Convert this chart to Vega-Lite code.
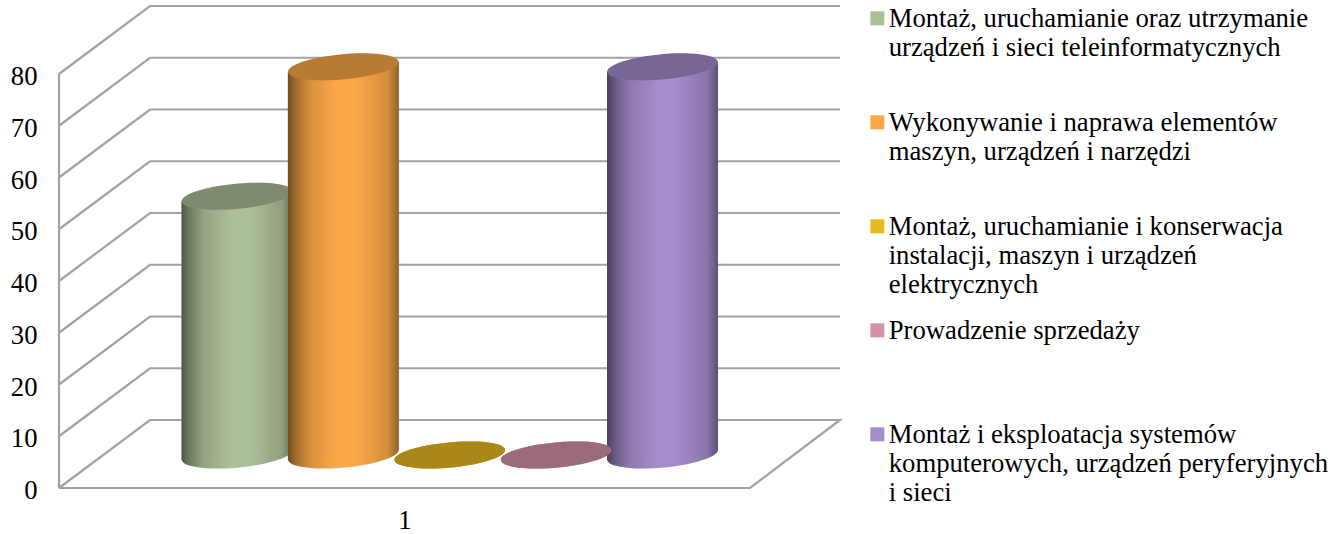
{
"$schema":"https://vega.github.io/schema/vega-lite/v6.json",
"width":1277,"height":488,
"autosize":{"type":"none"},
"padding":{"left":59,"top":0,"right":0,"bottom":46},
"background":"white",
"config":{"view":{"stroke":null},"font":"Liberation Serif"},
"datasets":{
"bars":[
{"series":"Montaż, uruchamianie oraz utrzymanie\nurządzeń i sieci teleinformatycznych","value":50},
{"series":"Wykonywanie i naprawa elementów\nmaszyn, urządzeń i narzędzi","value":75},
{"series":"Montaż, uruchamianie i konserwacja\ninstalacji, maszyn i urządzeń\nelektrycznych","value":0},
{"series":"Prowadzenie sprzedaży","value":0},
{"series":"Montaż i eksploatacja systemów\nkomputerowych, urządzeń peryferyjnych\ni sieci","value":75}
],
"frame":[
{"line":"g0","o":1,"x":0.5,"y":0},{"line":"g0","o":2,"x":1.5,"y":0},{"line":"g0","o":3,"x":1.6302,"y":13.14},{"line":"g0","o":4,"x":0.6317,"y":13.14},{"line":"g0","o":5,"x":0.5,"y":0},
{"line":"wall","o":1,"x":0.5,"y":0},{"line":"wall","o":2,"x":0.5,"y":80},
{"line":"g10","o":1,"x":0.5,"y":10},{"line":"g10","o":2,"x":0.6317,"y":23.14},{"line":"g10","o":3,"x":1.6302,"y":23.14},
{"line":"g20","o":1,"x":0.5,"y":20},{"line":"g20","o":2,"x":0.6317,"y":33.14},{"line":"g20","o":3,"x":1.6302,"y":33.14},
{"line":"g30","o":1,"x":0.5,"y":30},{"line":"g30","o":2,"x":0.6317,"y":43.14},{"line":"g30","o":3,"x":1.6302,"y":43.14},
{"line":"g40","o":1,"x":0.5,"y":40},{"line":"g40","o":2,"x":0.6317,"y":53.14},{"line":"g40","o":3,"x":1.6302,"y":53.14},
{"line":"g50","o":1,"x":0.5,"y":50},{"line":"g50","o":2,"x":0.6317,"y":63.14},{"line":"g50","o":3,"x":1.6302,"y":63.14},
{"line":"g60","o":1,"x":0.5,"y":60},{"line":"g60","o":2,"x":0.6317,"y":73.14},{"line":"g60","o":3,"x":1.6302,"y":73.14},
{"line":"g70","o":1,"x":0.5,"y":70},{"line":"g70","o":2,"x":0.6317,"y":83.14},{"line":"g70","o":3,"x":1.6302,"y":83.14},
{"line":"g80","o":1,"x":0.5,"y":80},{"line":"g80","o":2,"x":0.6317,"y":93.14},{"line":"g80","o":3,"x":1.6302,"y":93.14}
]
},
"resolve":{"scale":{"x":"independent","y":"independent"}},
"layer":[
{"data":{"name":"frame"},
 "mark":{"type":"line","stroke":"#a2a2a2","strokeWidth":2.2,"clip":false},
 "encoding":{
  "x":{"field":"x","type":"quantitative","scale":{"domain":[0.5,2.348],"nice":false,"zero":false},
   "axis":{"values":[1],"format":"d","title":null,"grid":false,"domain":false,"ticks":false,"labelPadding":19,"labelFontSize":26.7,"labelColor":"#000000","labelFont":"Liberation Serif"}},
  "y":{"field":"y","type":"quantitative","scale":{"domain":[0,94.3],"nice":false,"zero":false},
   "axis":{"values":[0,10,20,30,40,50,60,70,80],"title":null,"grid":false,"domain":false,"ticks":false,"labelPadding":22,"labelOffset":2.5,"labelFontSize":26.7,"labelColor":"#000000","labelFont":"Liberation Serif"}},
  "detail":{"field":"line"},
  "order":{"field":"o"}
 }},
{"data":{"name":"bars"},
 "encoding":{
  "x":{"field":"series","type":"nominal","scale":{"domain":["Montaż, uruchamianie oraz utrzymanie\nurządzeń i sieci teleinformatycznych","Wykonywanie i naprawa elementów\nmaszyn, urządzeń i narzędzi","Montaż, uruchamianie i konserwacja\ninstalacji, maszyn i urządzeń\nelektrycznych","Prowadzenie sprzedaży","Montaż i eksploatacja systemów\nkomputerowych, urządzeń peryferyjnych\ni sieci"],"range":[124.8,656.7],"paddingInner":0,"paddingOuter":0},"axis":null}
 },
 "layer":[
  {"transform":[{"filter":"datum.value==50"}],
   "mark":{"type":"point","filled":true,"opacity":1,"strokeWidth":0,"size":12321,"shape":"M-0.9957,0.0924 A1,0.225,-5.3,1,1,0.9957,-0.0924 A1,0.225,-5.3,1,1,-0.9957,0.0924 Z"},
   "encoding":{"y":{"datum":0,"type":"quantitative","scale":{"domain":[-6.38,87.92],"nice":false,"zero":false},"axis":null},
    "color":{"field":"series","type":"nominal",
     "scale":{"domain":["Montaż, uruchamianie oraz utrzymanie\nurządzeń i sieci teleinformatycznych","Wykonywanie i naprawa elementów\nmaszyn, urządzeń i narzędzi","Montaż, uruchamianie i konserwacja\ninstalacji, maszyn i urządzeń\nelektrycznych","Prowadzenie sprzedaży","Montaż i eksploatacja systemów\nkomputerowych, urządzeń peryferyjnych\ni sieci"],"range":["#adbf98","#fba947","#e8b921","#d592aa","#a58ccb"]},
     "legend":{"orient":"none","legendX":805,"legendY":-7,"title":null,"columns":1,"gridAlign":"all","rowPadding":6,"padding":0,"symbolType":"M-1,0.71H1V2.71H-1Z","symbolSize":196,"symbolStrokeWidth":0,"labelFont":"Liberation Serif","labelFontSize":26.7,"labelColor":"#000000","labelLimit":500,"labelBaseline":"top","labelOffset":-2,"labelExpr":"split(datum.label,'\\n')"}}}},
  {"transform":[{"filter":"datum.value==50"}],
   "mark":{"type":"point","filled":true,"opacity":1,"strokeWidth":0,"size":12321,"shape":"M-0.9957,0.0924 A1,0.225,-5.3,1,1,0.9957,-0.0924 A1,0.225,-5.3,1,1,-0.9957,0.0924 Z",
    "color":{"gradient":"linear","x1":0,"x2":1,"y1":0,"y2":0,"stops":[{"offset":0,"color":"rgba(0,0,0,0.55)"},{"offset":0.06,"color":"rgba(0,0,0,0.38)"},{"offset":0.2,"color":"rgba(0,0,0,0.14)"},{"offset":0.45,"color":"rgba(0,0,0,0)"},{"offset":0.62,"color":"rgba(0,0,0,0)"},{"offset":0.9,"color":"rgba(0,0,0,0.16)"},{"offset":1,"color":"rgba(0,0,0,0.42)"}]}},
   "encoding":{"y":{"datum":0,"type":"quantitative"}}},
  {"transform":[{"filter":"datum.value==50"}],
   "mark":{"type":"bar","width":56,"xOffset":-27.5,"yOffset":5,"y2Offset":5},
   "encoding":{"y":{"field":"value","type":"quantitative"},"y2":{"datum":0},
    "color":{"field":"series","type":"nominal","legend":null}}},
  {"transform":[{"filter":"datum.value==50"}],
   "mark":{"type":"bar","width":56,"xOffset":27.5,"yOffset":-5,"y2Offset":-5},
   "encoding":{"y":{"field":"value","type":"quantitative"},"y2":{"datum":0},
    "color":{"field":"series","type":"nominal","legend":null}}},
  {"transform":[{"filter":"datum.value==50"}],
   "mark":{"type":"bar","width":56,"xOffset":-27.5,"yOffset":5,"y2Offset":5,
    "color":{"gradient":"linear","x1":0,"x2":1,"y1":0,"y2":0,"stops":[{"offset":0,"color":"rgba(0,0,0,0.55)"},{"offset":0.12,"color":"rgba(0,0,0,0.38)"},{"offset":0.4,"color":"rgba(0,0,0,0.14)"},{"offset":0.9,"color":"rgba(0,0,0,0)"},{"offset":1,"color":"rgba(0,0,0,0)"}]}},
   "encoding":{"y":{"field":"value","type":"quantitative"},"y2":{"datum":0}}},
  {"transform":[{"filter":"datum.value==50"}],
   "mark":{"type":"bar","width":56,"xOffset":27.5,"yOffset":-5,"y2Offset":-5,
    "color":{"gradient":"linear","x1":0,"x2":1,"y1":0,"y2":0,"stops":[{"offset":0,"color":"rgba(0,0,0,0)"},{"offset":0.24,"color":"rgba(0,0,0,0)"},{"offset":0.8,"color":"rgba(0,0,0,0.16)"},{"offset":1,"color":"rgba(0,0,0,0.42)"}]}},
   "encoding":{"y":{"field":"value","type":"quantitative"},"y2":{"datum":0}}},
  {"transform":[{"filter":"datum.value==50"}],
   "mark":{"type":"point","filled":true,"opacity":1,"strokeWidth":0,"size":12321,"shape":"M-0.9957,0.0924 A1,0.225,-5.3,1,1,0.9957,-0.0924 A1,0.225,-5.3,1,1,-0.9957,0.0924 Z"},
   "encoding":{"y":{"field":"value","type":"quantitative"},
    "color":{"field":"series","type":"nominal","legend":null}}},
  {"transform":[{"filter":"datum.value==50"}],
   "mark":{"type":"point","filled":true,"opacity":0.27,"strokeWidth":0,"size":12321,"color":"#000000","shape":"M-0.9957,0.0924 A1,0.225,-5.3,1,1,0.9957,-0.0924 A1,0.225,-5.3,1,1,-0.9957,0.0924 Z"},
   "encoding":{"y":{"field":"value","type":"quantitative"}}},
  {"transform":[{"filter":"datum.value!=50"}],
   "mark":{"type":"point","filled":true,"opacity":1,"strokeWidth":0,"size":12321,"shape":"M-0.9957,0.0924 A1,0.225,-5.3,1,1,0.9957,-0.0924 A1,0.225,-5.3,1,1,-0.9957,0.0924 Z"},
   "encoding":{"y":{"datum":0,"type":"quantitative"},
    "color":{"field":"series","type":"nominal","legend":null}}},
  {"transform":[{"filter":"datum.value!=50"}],
   "mark":{"type":"point","filled":true,"opacity":1,"strokeWidth":0,"size":12321,"shape":"M-0.9957,0.0924 A1,0.225,-5.3,1,1,0.9957,-0.0924 A1,0.225,-5.3,1,1,-0.9957,0.0924 Z",
    "color":{"gradient":"linear","x1":0,"x2":1,"y1":0,"y2":0,"stops":[{"offset":0,"color":"rgba(0,0,0,0.55)"},{"offset":0.06,"color":"rgba(0,0,0,0.38)"},{"offset":0.2,"color":"rgba(0,0,0,0.14)"},{"offset":0.45,"color":"rgba(0,0,0,0)"},{"offset":0.62,"color":"rgba(0,0,0,0)"},{"offset":0.9,"color":"rgba(0,0,0,0.16)"},{"offset":1,"color":"rgba(0,0,0,0.42)"}]}},
   "encoding":{"y":{"datum":0,"type":"quantitative"}}},
  {"transform":[{"filter":"datum.value!=50"}],
   "mark":{"type":"bar","width":56,"xOffset":-27.5,"yOffset":5,"y2Offset":5},
   "encoding":{"y":{"field":"value","type":"quantitative"},"y2":{"datum":0},
    "color":{"field":"series","type":"nominal","legend":null}}},
  {"transform":[{"filter":"datum.value!=50"}],
   "mark":{"type":"bar","width":56,"xOffset":27.5,"yOffset":-5,"y2Offset":-5},
   "encoding":{"y":{"field":"value","type":"quantitative"},"y2":{"datum":0},
    "color":{"field":"series","type":"nominal","legend":null}}},
  {"transform":[{"filter":"datum.value!=50"}],
   "mark":{"type":"bar","width":56,"xOffset":-27.5,"yOffset":5,"y2Offset":5,
    "color":{"gradient":"linear","x1":0,"x2":1,"y1":0,"y2":0,"stops":[{"offset":0,"color":"rgba(0,0,0,0.55)"},{"offset":0.12,"color":"rgba(0,0,0,0.38)"},{"offset":0.4,"color":"rgba(0,0,0,0.14)"},{"offset":0.9,"color":"rgba(0,0,0,0)"},{"offset":1,"color":"rgba(0,0,0,0)"}]}},
   "encoding":{"y":{"field":"value","type":"quantitative"},"y2":{"datum":0}}},
  {"transform":[{"filter":"datum.value!=50"}],
   "mark":{"type":"bar","width":56,"xOffset":27.5,"yOffset":-5,"y2Offset":-5,
    "color":{"gradient":"linear","x1":0,"x2":1,"y1":0,"y2":0,"stops":[{"offset":0,"color":"rgba(0,0,0,0)"},{"offset":0.24,"color":"rgba(0,0,0,0)"},{"offset":0.8,"color":"rgba(0,0,0,0.16)"},{"offset":1,"color":"rgba(0,0,0,0.42)"}]}},
   "encoding":{"y":{"field":"value","type":"quantitative"},"y2":{"datum":0}}},
  {"transform":[{"filter":"datum.value!=50"}],
   "mark":{"type":"point","filled":true,"opacity":1,"strokeWidth":0,"size":12321,"shape":"M-0.9957,0.0924 A1,0.225,-5.3,1,1,0.9957,-0.0924 A1,0.225,-5.3,1,1,-0.9957,0.0924 Z"},
   "encoding":{"y":{"field":"value","type":"quantitative"},
    "color":{"field":"series","type":"nominal","legend":null}}},
  {"transform":[{"filter":"datum.value!=50"}],
   "mark":{"type":"point","filled":true,"opacity":0.27,"strokeWidth":0,"size":12321,"color":"#000000","shape":"M-0.9957,0.0924 A1,0.225,-5.3,1,1,0.9957,-0.0924 A1,0.225,-5.3,1,1,-0.9957,0.0924 Z"},
   "encoding":{"y":{"field":"value","type":"quantitative"}}}
 ]}
]
}
